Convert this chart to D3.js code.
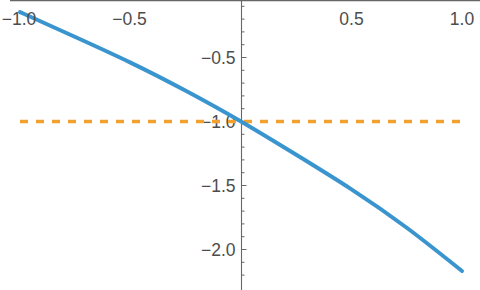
<!DOCTYPE html>
<html><head><meta charset="utf-8">
<script src="https://cdn.jsdelivr.net/npm/d3@7"></script>
<style>
html,body{margin:0;padding:0;background:#fff;}
svg{display:block;}
text{font-family:"Liberation Sans",Arial,sans-serif;fill:#4d4d4d;}
</style></head>
<body>
<script>
const curveX = [-1, -0.75, -0.5, -0.25, 0, 0.25, 0.5, 0.75, 1];
const curveY = [-0.145, -0.34, -0.54, -0.76, -1.0, -1.26, -1.53, -1.83, -2.168];
const refX = [-1, 1];
const refY = [-1, -1];
const xTicks = [-1.0, -0.5, 0.5, 1.0];
const yTicks = [-0.5, -1.0, -1.5, -2.0];
const yMinor = d3.range(1, 23).map(i => -i / 10);

const W = 480, H = 290;
const svg = d3.select("body").append("svg").attr("width", W).attr("height", H);

const x = d3.scaleLinear().domain([-1, 1]).range([20, 462]);
const y = d3.scaleLinear().domain([0, -2]).range([-6.5, 249.5]);

const axisColor = "#666";
const fmt = v => (v < 0 ? "\u2212" : "") + Math.abs(v).toFixed(1);

// x axis line at top
svg.append("line").attr("x1", 10).attr("x2", W).attr("y1", 0.5).attr("y2", 0.5)
  .attr("stroke", axisColor).attr("stroke-width", 1.3);
// y axis line
const x0 = Math.round(x(0)) + 0.5;
svg.append("line").attr("x1", x0).attr("x2", x0).attr("y1", 0).attr("y2", H)
  .attr("stroke", axisColor).attr("stroke-width", 1.1);

// y ticks
yMinor.forEach(v => {
  const isMajor = yTicks.some(t => Math.abs(t - v) < 1e-9);
  svg.append("line").attr("x1", x0).attr("x2", x0 + (isMajor ? 5 : 3))
    .attr("y1", y(v)).attr("y2", y(v)).attr("stroke", axisColor).attr("stroke-width", 1);
});
svg.selectAll("text.yl").data(yTicks).enter().append("text")
  .attr("x", x0 - 6).attr("y", d => y(d)).attr("dy", "0.36em")
  .attr("text-anchor", "end").attr("font-size", 17.5).text(fmt);

// reference dashed line
svg.append("path")
  .attr("d", d3.line().x(d => x(d[0])).y(d => y(d[1]))(refX.map((v, i) => [v, refY[i]])))
  .attr("fill", "none").attr("stroke", "#f2a12e").attr("stroke-width", 3.5)
  .attr("stroke-dasharray", "8,8");

// curve
svg.append("path")
  .attr("d", d3.line().x(d => x(d[0])).y(d => y(d[1])).curve(d3.curveNatural)(curveX.map((v, i) => [v, curveY[i]])))
  .attr("fill", "none").attr("stroke", "#3a95cf").attr("stroke-width", 4).attr("stroke-linecap", "round");

// x tick labels
svg.selectAll("text.xl").data(xTicks).enter().append("text")
  .attr("x", d => x(d) - (d < 0 ? 1 : 0)).attr("y", 25)
  .attr("text-anchor", "middle").attr("font-size", 17.5).text(fmt);
</script>
</body></html>
